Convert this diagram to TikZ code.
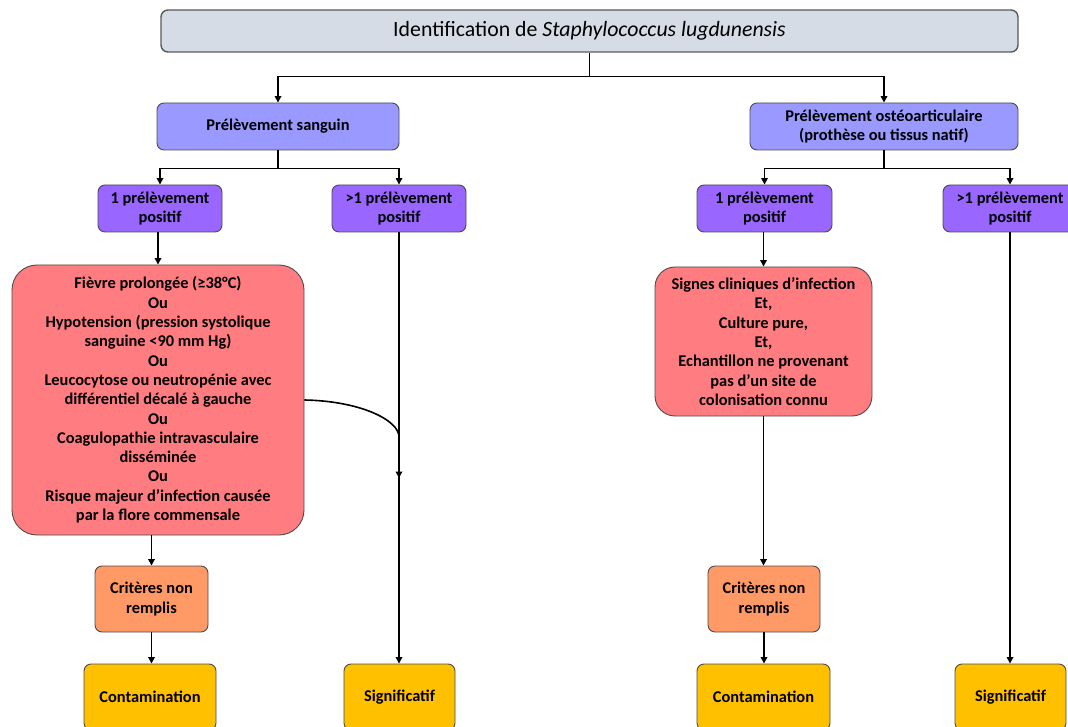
\documentclass[tikz,border=0pt]{standalone}
\usepackage{fontspec}
\setmainfont{Carlito}
\usetikzlibrary{arrows.meta}
\definecolor{titlegray}{HTML}{D6DCE5}
\definecolor{lavender}{HTML}{9999FF}
\definecolor{violet}{HTML}{9966FF}
\definecolor{rose}{HTML}{FF7C80}
\definecolor{salmon}{HTML}{FF9966}
\definecolor{amber}{HTML}{FFC000}
\begin{document}
\begin{tikzpicture}[x=1pt,y=-1pt,
      box/.style={draw=black!70,line width=0.9pt,rounded corners=7pt,align=center,inner sep=0pt,
                  font=\bfseries\fontsize{16.4}{19.3}\selectfont},
      link/.style={line width=1.6pt,-{Triangle[width=6.5pt,length=6.5pt]}},
      trunk/.style={line width=1.6pt}]
   \useasboundingbox (0,0) rectangle (1068,727);
   \clip (0,0) rectangle (1068,727);
   % titre et prelevements
   \node[box,fill=titlegray,draw=black!65,line width=1.4pt,minimum width=857,minimum height=42,
         font=\fontsize{21.8}{24}\selectfont] (titre) at (589.5,31) {Identification de \textit{Staphylococcus lugdunensis}};
   \node[box,fill=lavender,minimum width=242,minimum height=47] (sanguin) at (278,126.5) {Prélèvement sanguin};
   \node[box,fill=lavender,minimum width=268,minimum height=47] (osteo) at (884,126.5) {Prélèvement ostéoarticulaire\\(prothèse ou tissus natif)};
   \node[box,fill=violet,minimum width=124,minimum height=47] (unL) at (160,208.5) {1 prélèvement\\positif};
   \node[box,fill=violet,minimum width=134,minimum height=47] (plusL) at (399,208.5) {>1 prélèvement\\positif};
   \node[box,fill=violet,minimum width=135,minimum height=47] (unR) at (764.5,208.5) {1 prélèvement\\positif};
   \node[box,fill=violet,minimum width=134,minimum height=47] (plusR) at (1010,208.5) {>1 prélèvement\\positif};
   % criteres
   \node[box,fill=rose,rounded corners=25pt,minimum width=292,minimum height=270] (critL) at (158,400)
        {Fièvre prolongée (≥38°C)\\Ou\\Hypotension (pression systolique\\sanguine <90 mm Hg)\\Ou\\Leucocytose ou neutropénie avec\\différentiel décalé à gauche\\Ou\\Coagulopathie intravasculaire\\disséminée\\Ou\\Risque majeur d’infection causée\\par la flore commensale};
   \node[box,fill=rose,rounded corners=20pt,minimum width=217,minimum height=149] (critR) at (763.5,341.5)
        {Signes cliniques d’infection\\Et,\\Culture pure,\\Et,\\Echantillon ne provenant\\pas d’un site de\\colonisation connu};
   \node[box,fill=salmon,minimum width=113,minimum height=66] (nonL) at (151.5,599) {Critères non\\remplis};
   \node[box,fill=salmon,minimum width=112,minimum height=66] (nonR) at (764,599) {Critères non\\remplis};
   % resultats
   \node[box,fill=amber,minimum width=132,minimum height=66] (contL) at (150,697) {Contamination};
   \node[box,fill=amber,minimum width=111,minimum height=66] (sigL) at (399.5,697) {Significatif};
   \node[box,fill=amber,minimum width=133,minimum height=66] (contR) at (763.5,697) {Contamination};
   \node[box,fill=amber,minimum width=111,minimum height=66] (sigR) at (1010.5,697) {Significatif};
   % liens
   \draw[trunk] (titre.south) -- ++(0,24) coordinate (t1);
   \draw[link] (t1) -| (sanguin.north);
   \draw[link] (t1) -| (osteo.north);
   \draw[trunk] (sanguin.south) -- ++(0,18) coordinate (s1);
   \draw[link] (s1) -| (unL.north);
   \draw[link] (s1) -| (plusL.north);
   \draw[trunk] (osteo.south) -- ++(0,18) coordinate (o1);
   \draw[link] (o1) -| (unR.north);
   \draw[link] (o1) -| (plusR.north);
   \draw[link] (critL.north |- unL.south) -- (critL.north);
   \draw[link] (nonL.north |- critL.south) -- (nonL.north);
   \draw[link] (nonL.south) -- (nonL.south |- contL.north);
   \draw[link] (plusL.south) -- (plusL.south |- sigL.north);
   \coordinate (jonction) at (399,437);
   \coordinate (pointe) at (399,478);
   \draw[link] (critL.east) .. controls (360,401) and (399,420) .. (jonction) -- (pointe);
   \draw[link] (critR.north |- unR.south) -- (critR.north);
   \draw[link] (critR.south) -- (critR.south |- nonR.north);
   \draw[link] (nonR.south) -- (nonR.south |- contR.north);
   \draw[link] (plusR.south) -- (plusR.south |- sigR.north);
\end{tikzpicture}
\end{document}
